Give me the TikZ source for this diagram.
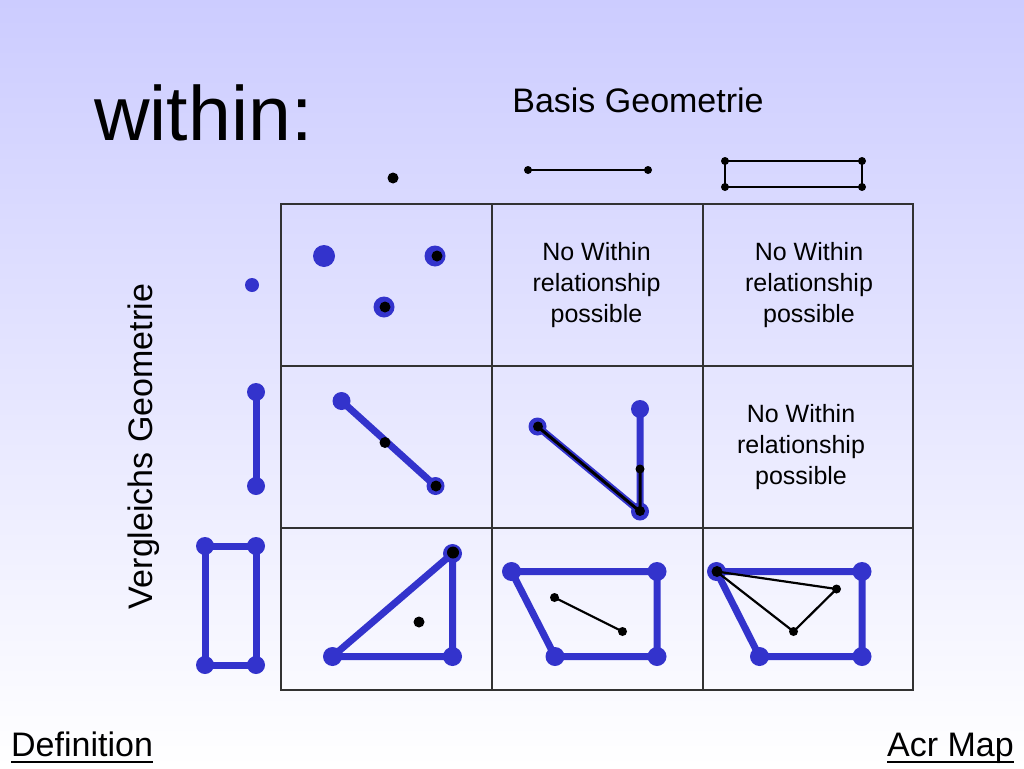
\documentclass[tikz,border=0pt]{standalone}
\usepackage{fontspec}
\setmainfont{Liberation Sans}
\definecolor{geoblue}{RGB}{51,51,204}
\definecolor{bgtop}{RGB}{204,204,255}
\definecolor{gridc}{RGB}{50,50,50}
\begin{document}
\begin{tikzpicture}[x=1pt,y=-1pt,
  bluel/.style={geoblue,line width=7pt,line join=round,line cap=round},
  bluedot/.style={fill=geoblue},
  blkl/.style={black,line width=2.2pt,line join=round},
  blkdot/.style={fill=black},
  gridl/.style={gridc,line width=1.5pt},
  cell/.style={align=center,inner sep=0pt,font=\fontsize{25}{31}\selectfont},
  lbl/.style={inner sep=0pt,font=\fontsize{34}{40}\selectfont}]
\useasboundingbox (0,0) rectangle (1024,768);
\shade[top color=bgtop,bottom color=white] (0,0) rectangle (1024,768);
% titles
\node[inner sep=0pt,anchor=base west,font=\fontsize{77}{90}\selectfont] (title) at (94,140) {within:};
\node[lbl,anchor=base] (basis) at (638,112) {Basis Geometrie};
\node[lbl,anchor=base,rotate=90] (vergl) at (152,446.5) {Vergleichs Geometrie};
% grid
\draw[gridl] (281,204) rectangle (913,690);
\draw[gridl] (492,204) -- (492,690) (703,204) -- (703,690)
  (281,366) -- (913,366) (281,528) -- (913,528);
% header shapes
\fill[blkdot] (393,178) circle (5.5);
\draw[blkl] (528,170) -- (648,170);
\fill[blkdot] (528,170) circle (4) (648,170) circle (4);
\draw[blkl] (725,161) rectangle (862,187);
\fill[blkdot] (725,161) circle (4) (862,161) circle (4) (725,187) circle (4) (862,187) circle (4);
% left column shapes
\fill[bluedot] (252,285) circle (7);
\draw[bluel] (256,392) -- (256,486);
\fill[bluedot] (256,392) circle (9) (256,486) circle (9);
\draw[bluel] (205,546) rectangle (256,665);
\fill[bluedot] (205,546) circle (9) (256,546) circle (9) (205,665) circle (9) (256,665) circle (9);
% cell 1,1
\fill[bluedot] (324,256) circle (11) (435,256) circle (10.5) (384,307) circle (10.5);
\fill[blkdot] (437,256) circle (5.5) (385,307) circle (5.5);
% cell 1,2 and 1,3 and 2,3
\node[cell] (c12) at (596.5,285.5) {No Within\\relationship\\possible};
\node[cell] (c13) at (809,285.5) {No Within\\relationship\\possible};
\node[cell] (c23) at (801,447.5) {No Within\\relationship\\possible};
% cell 2,1
\draw[bluel] (341.5,401) -- (435.5,486);
\fill[bluedot] (341.5,401) circle (9) (435.5,486) circle (9);
\fill[blkdot] (385,442.5) circle (5.5) (436,486) circle (5.5);
% cell 2,2
\draw[bluel] (537.5,426.5) -- (640,511.5) (640,409) -- (640,511.5);
\fill[bluedot] (537.5,426.5) circle (9) (640,409) circle (9) (640,511.5) circle (9);
\draw[black,line width=3pt,line join=round] (537.5,426.5) -- (640,511.5) -- (640,469);
\fill[blkdot] (538,426.5) circle (5) (640,469) circle (4.5) (640,511) circle (5);
% cell 3,1
\draw[bluel] (332.5,656.5) -- (452.5,553.5) -- (452.5,656.5) -- cycle;
\fill[bluedot] (332.5,656.5) circle (9.5) (452.5,553.5) circle (9.5) (452.5,656.5) circle (9.5);
\fill[blkdot] (453,552.5) circle (6) (419,622) circle (5.5);
% cell 3,2
\draw[bluel] (511.5,571.5) -- (657,571.5) -- (657,656.5) -- (555,656.5) -- cycle;
\fill[bluedot] (511.5,571.5) circle (9.5) (657,571.5) circle (9.5) (657,656.5) circle (9.5) (555,656.5) circle (9.5);
\draw[blkl] (554.5,597.5) -- (622.5,631.5);
\fill[blkdot] (554.5,597.5) circle (4.5) (622.5,631.5) circle (4.5);
% cell 3,3
\draw[bluel] (716.5,571.5) -- (862,571.5) -- (862,656.5) -- (759.5,656.5) -- cycle;
\fill[bluedot] (716.5,571.5) circle (9.5) (862,571.5) circle (9.5) (862,656.5) circle (9.5) (759.5,656.5) circle (9.5);
\draw[blkl] (716.5,571.5) -- (836.5,589) -- (793.5,631.5) -- cycle;
\fill[blkdot] (717,571.5) circle (5.5) (836.5,589) circle (4.5) (793.5,631.5) circle (4.5);
% footer links
\node[lbl,anchor=base west] (def) at (11,756) {Definition};
\draw[black,line width=2pt] ([yshift=-5.5pt]def.base west) -- ([yshift=-5.5pt]def.base east);
\node[lbl,anchor=base east] (acr) at (1014,756) {Acr Map};
\draw[black,line width=2pt] ([yshift=-5.5pt]acr.base west) -- ([yshift=-5.5pt]acr.base east);
\end{tikzpicture}
\end{document}
